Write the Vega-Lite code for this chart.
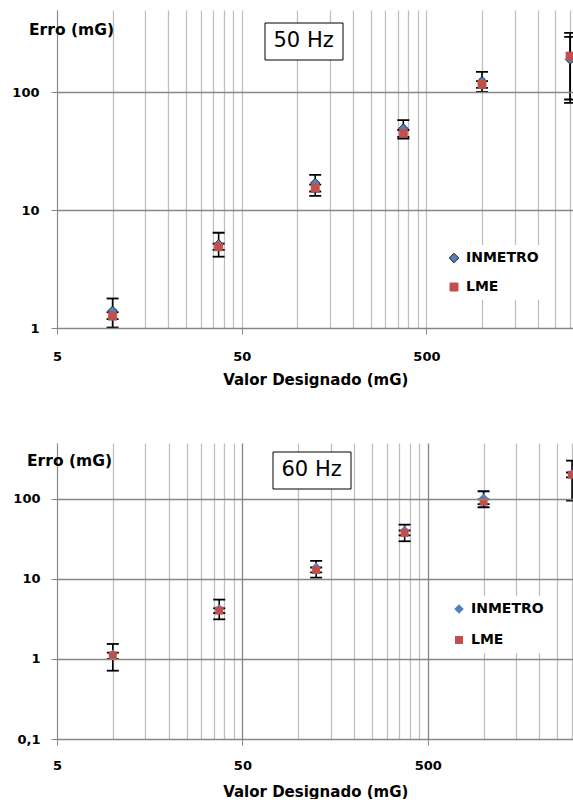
{
  "$schema": "https://vega.github.io/schema/vega-lite/v6.json",
  "background": "white",
  "padding": {"left": 5, "top": 10, "right": 0, "bottom": 0},
  "spacing": 56,
  "resolve": {
    "scale": {"color": "independent", "shape": "independent", "stroke": "independent", "size": "independent", "strokeDash": "independent"},
    "legend": {"color": "independent", "shape": "independent", "stroke": "independent", "size": "independent", "strokeDash": "independent"}
  },
  "config": {
    "view": {"stroke": null},
    "font": "DejaVu Sans",
    "axis": {
      "labelFont": "DejaVu Sans",
      "labelFontWeight": "bold",
      "labelFontSize": 13,
      "labelColor": "black",
      "titleFont": "DejaVu Sans",
      "titleFontWeight": "bold",
      "titleFontSize": 15,
      "titleColor": "black",
      "domainColor": "#868686",
      "domainWidth": 1,
      "tickColor": "#868686",
      "tickSize": 6,
      "labelOverlap": false,
      "labelBound": false,
      "labelFlush": false
    },
    "legend": {
      "labelFont": "DejaVu Sans",
      "labelFontWeight": "bold",
      "labelFontSize": 14,
      "labelColor": "black"
    }
  },
  "datasets": {
    "pts": [
      {"panel": "50 Hz", "series": "INMETRO", "x": 10, "y": 1.40, "lo": 1.01, "hi": 1.78},
      {"panel": "50 Hz", "series": "INMETRO", "x": 37.5, "y": 5.15, "lo": 4.03, "hi": 6.43},
      {"panel": "50 Hz", "series": "INMETRO", "x": 125, "y": 17.0, "lo": 13.2, "hi": 19.9},
      {"panel": "50 Hz", "series": "INMETRO", "x": 375, "y": 49.4, "lo": 40.6, "hi": 58.1},
      {"panel": "50 Hz", "series": "INMETRO", "x": 1000, "y": 124.5, "lo": 100.9, "hi": 149.3},
      {"panel": "50 Hz", "series": "INMETRO", "x": 3000, "y": 190, "lo": 81.5, "hi": 295.6},
      {"panel": "50 Hz", "series": "LME", "x": 10, "y": 1.26, "lo": 1.19, "hi": 1.36},
      {"panel": "50 Hz", "series": "LME", "x": 37.5, "y": 4.89, "lo": 4.6, "hi": 5.2},
      {"panel": "50 Hz", "series": "LME", "x": 125, "y": 15.4, "lo": 14.4, "hi": 16.5},
      {"panel": "50 Hz", "series": "LME", "x": 375, "y": 44.8, "lo": 41.9, "hi": 47.9},
      {"panel": "50 Hz", "series": "LME", "x": 1000, "y": 116.7, "lo": 109, "hi": 124.5},
      {"panel": "50 Hz", "series": "LME", "x": 3000, "y": 203, "lo": 87, "hi": 320},
      {"panel": "60 Hz", "series": "INMETRO", "x": 10, "y": 1.15, "lo": 0.714, "hi": 1.54},
      {"panel": "60 Hz", "series": "INMETRO", "x": 37.5, "y": 4.22, "lo": 3.13, "hi": 5.52},
      {"panel": "60 Hz", "series": "INMETRO", "x": 125, "y": 14.0, "lo": 10.4, "hi": 16.8},
      {"panel": "60 Hz", "series": "INMETRO", "x": 375, "y": 40.2, "lo": 29.6, "hi": 47.7},
      {"panel": "60 Hz", "series": "INMETRO", "x": 1000, "y": 102, "lo": 78.7, "hi": 124.8},
      {"panel": "60 Hz", "series": "INMETRO", "x": 3000, "y": 205, "lo": 95.3, "hi": 301},
      {"panel": "60 Hz", "series": "LME", "x": 10, "y": 1.10, "lo": 1.0, "hi": 1.2},
      {"panel": "60 Hz", "series": "LME", "x": 37.5, "y": 4.02, "lo": 3.75, "hi": 4.3},
      {"panel": "60 Hz", "series": "LME", "x": 125, "y": 12.95, "lo": 12.1, "hi": 13.9},
      {"panel": "60 Hz", "series": "LME", "x": 375, "y": 37.6, "lo": 35.1, "hi": 40.3},
      {"panel": "60 Hz", "series": "LME", "x": 1000, "y": 92.5, "lo": 86, "hi": 99},
      {"panel": "60 Hz", "series": "LME", "x": 3000, "y": 200, "lo": 186, "hi": 214}
    ]
  },
  "vconcat": [
    {
      "width": 516.5,
      "height": 318,
      "data": {"name": "pts"},
      "transform": [{"filter": "datum.panel == '50 Hz'"}],
      "encoding": {
        "x": {
          "field": "x", "type": "quantitative",
          "scale": {"type": "log", "domain": [5, 3129], "nice": false},
          "axis": {
            "values": [5, 10, 15, 20, 25, 30, 35, 40, 45, 50, 100, 150, 200, 250, 300, 350, 400, 450, 500, 1000, 1500, 2000, 2500, 3000],
            "grid": true,
            "gridColor": "#BFBFBF",
            "gridWidth": 1.3,
            "tickOpacity": {"condition": {"test": "datum.value == 5 || datum.value == 50 || datum.value == 500", "value": 1}, "value": 0},
            "labelExpr": "(datum.value == 5 || datum.value == 50 || datum.value == 500) ? '' + datum.value : ''",
            "labelPadding": 16,
            "title": "Valor Designado (mG)",
            "titleBaseline": "alphabetic",
            "titleY": 56
          }
        },
        "y": {
          "field": "y", "type": "quantitative",
          "scale": {"type": "log", "domain": [1, 500], "nice": false},
          "axis": {
            "values": [1, 10, 100],
            "grid": true,
            "gridColor": "#868686",
            "gridWidth": 1.3,
            "labelPadding": 12,
            "minExtent": 51.5,
            "maxExtent": 51.5,
            "title": "Erro (mG)",
            "titleFontSize": 15.5,
            "titleAngle": 0,
            "titleAlign": "center",
            "titleBaseline": "alphabetic",
            "titleX": 14,
            "titleY": 24.3,
            "zindex": 1
          }
        }
      },
      "layer": [
        {
          "mark": {"type": "rule", "color": "black", "strokeWidth": 1.6, "clip": true},
          "encoding": {"y": {"field": "lo", "type": "quantitative"}, "y2": {"field": "hi"}}
        },
        {
          "mark": {"type": "tick", "orient": "horizontal", "color": "black", "opacity": 1, "size": 12, "thickness": 1.8, "clip": true},
          "encoding": {"y": {"field": "lo", "type": "quantitative"}}
        },
        {
          "mark": {"type": "tick", "orient": "horizontal", "color": "black", "opacity": 1, "size": 12, "thickness": 1.8, "clip": true},
          "encoding": {"y": {"field": "hi", "type": "quantitative"}}
        },
        {
          "mark": {"type": "point", "filled": true, "opacity": 1, "strokeWidth": 1, "clip": true},
          "encoding": {
            "color": {
              "field": "series", "type": "nominal",
              "scale": {"domain": ["INMETRO", "LME"], "range": ["#4F81BD", "#C0504D"]},
              "legend": {"orient": "none", "legendX": 384, "legendY": 235, "title": null, "fillColor": "white", "padding": 6, "rowPadding": 15, "labelOffset": 5, "symbolSize": 70, "symbolStrokeWidth": 1, "symbolOpacity": 1}
            },
            "shape": {
              "field": "series", "type": "nominal",
              "scale": {"domain": ["INMETRO", "LME"], "range": ["diamond", "square"]},
              "legend": {"orient": "none", "legendX": 384, "legendY": 235, "title": null, "fillColor": "white", "padding": 6, "rowPadding": 15, "labelOffset": 5, "symbolSize": 70, "symbolStrokeWidth": 1, "symbolOpacity": 1}
            },
            "stroke": {
              "field": "series", "type": "nominal",
              "scale": {"domain": ["INMETRO", "LME"], "range": ["#1A1A1A", "#C0504D"]},
              "legend": {"orient": "none", "legendX": 384, "legendY": 235, "title": null, "fillColor": "white", "padding": 6, "rowPadding": 15, "labelOffset": 5, "symbolSize": 70, "symbolStrokeWidth": 1, "symbolOpacity": 1}
            },
            "size": {
              "field": "series", "type": "nominal",
              "scale": {"domain": ["INMETRO", "LME"], "range": [90, 64]},
              "legend": null
            },
            "strokeDash": {
              "field": "panel", "type": "nominal",
              "scale": {"domain": ["50 Hz"], "range": [[1, 0]]},
              "legend": {"orient": "none", "legendX": 207.5, "legendY": 12.5, "title": null, "fillColor": "white", "strokeColor": "black", "padding": 8, "symbolType": "circle", "symbolSize": 1, "symbolOpacity": 0, "symbolStrokeWidth": 0, "labelOffset": -20, "labelFont": "DejaVu Sans", "labelFontWeight": "normal", "labelFontSize": 21, "labelColor": "black"}
            }
          }
        }
      ]
    },
    {
      "width": 516.5,
      "height": 296,
      "data": {"name": "pts"},
      "transform": [{"filter": "datum.panel == '60 Hz'"}],
      "encoding": {
        "x": {
          "field": "x", "type": "quantitative",
          "scale": {"type": "log", "domain": [5, 3055], "nice": false},
          "axis": {
            "values": [5, 10, 15, 20, 25, 30, 35, 40, 45, 50, 100, 150, 200, 250, 300, 350, 400, 450, 500, 1000, 1500, 2000, 2500, 3000],
            "grid": true,
            "gridColor": {"condition": {"test": "datum.value == 50 || datum.value == 500", "value": "#868686"}, "value": "#BFBFBF"},
            "gridWidth": 1.3,
            "tickOpacity": {"condition": {"test": "datum.value == 5 || datum.value == 50 || datum.value == 500", "value": 1}, "value": 0},
            "labelExpr": "(datum.value == 5 || datum.value == 50 || datum.value == 500) ? '' + datum.value : ''",
            "labelPadding": 14,
            "title": "Valor Designado (mG)",
            "titleBaseline": "alphabetic",
            "titleY": 57
          }
        },
        "y": {
          "field": "y", "type": "quantitative",
          "scale": {"type": "log", "domain": [0.1, 500], "nice": false},
          "axis": {
            "values": [0.1, 1, 10, 100],
            "grid": true,
            "gridColor": "#868686",
            "gridWidth": 1.3,
            "labelExpr": "datum.value == 0.1 ? '0,1' : '' + datum.value",
            "labelPadding": 11,
            "minExtent": 51.5,
            "maxExtent": 51.5,
            "title": "Erro (mG)",
            "titleFontSize": 15.5,
            "titleAngle": 0,
            "titleAlign": "center",
            "titleBaseline": "alphabetic",
            "titleX": 12,
            "titleY": 22.7,
            "zindex": 1
          }
        }
      },
      "layer": [
        {
          "mark": {"type": "rule", "color": "black", "strokeWidth": 1.6, "clip": true},
          "encoding": {"y": {"field": "lo", "type": "quantitative"}, "y2": {"field": "hi"}}
        },
        {
          "mark": {"type": "tick", "orient": "horizontal", "color": "black", "opacity": 1, "size": 12, "thickness": 1.8, "clip": true},
          "encoding": {"y": {"field": "lo", "type": "quantitative"}}
        },
        {
          "mark": {"type": "tick", "orient": "horizontal", "color": "black", "opacity": 1, "size": 12, "thickness": 1.8, "clip": true},
          "encoding": {"y": {"field": "hi", "type": "quantitative"}}
        },
        {
          "mark": {"type": "point", "filled": true, "opacity": 1, "strokeWidth": 0, "clip": true},
          "encoding": {
            "color": {
              "field": "series", "type": "nominal",
              "scale": {"domain": ["INMETRO", "LME"], "range": ["#4F81BD", "#C0504D"]},
              "legend": {"orient": "none", "legendX": 389, "legendY": 153, "title": null, "fillColor": "white", "padding": 6, "rowPadding": 17, "labelOffset": 5, "symbolSize": 70, "symbolStrokeWidth": 0, "symbolOpacity": 1}
            },
            "shape": {
              "field": "series", "type": "nominal",
              "scale": {"domain": ["INMETRO", "LME"], "range": ["diamond", "square"]},
              "legend": {"orient": "none", "legendX": 389, "legendY": 153, "title": null, "fillColor": "white", "padding": 6, "rowPadding": 17, "labelOffset": 5, "symbolSize": 70, "symbolStrokeWidth": 0, "symbolOpacity": 1}
            },
            "size": {
              "field": "series", "type": "nominal",
              "scale": {"domain": ["INMETRO", "LME"], "range": [90, 64]},
              "legend": null
            },
            "strokeDash": {
              "field": "panel", "type": "nominal",
              "scale": {"domain": ["60 Hz"], "range": [[1, 0]]},
              "legend": {"orient": "none", "legendX": 215.5, "legendY": 8.5, "title": null, "fillColor": "white", "strokeColor": "black", "padding": 8, "symbolType": "circle", "symbolSize": 1, "symbolOpacity": 0, "symbolStrokeWidth": 0, "labelOffset": -20, "labelFont": "DejaVu Sans", "labelFontWeight": "normal", "labelFontSize": 21, "labelColor": "black"}
            }
          }
        }
      ]
    }
  ]
}
